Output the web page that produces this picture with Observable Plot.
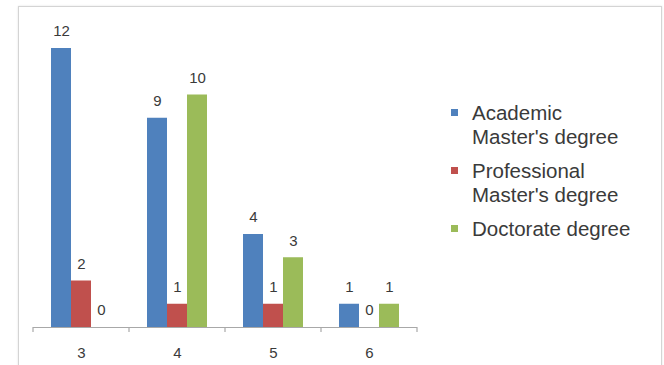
<!DOCTYPE html>
<html>
<head>
<meta charset="utf-8">
<script src="https://cdn.jsdelivr.net/npm/d3@7"></script>
<script src="https://cdn.jsdelivr.net/npm/@observablehq/plot@0.6"></script>
<style>
  html, body { margin: 0; padding: 0; background: #fff; }
  #wrap { position: relative; width: 664px; height: 365px; overflow: hidden; font-family: "Liberation Sans", Arial, sans-serif; }
  #box { position: absolute; left: 18px; top: 6px; width: 642px; height: 380px; border: 1px solid #d4d4d4; box-shadow: 0 0 2px #e4e4e4; }
  #chart { position: absolute; left: 0; top: 0; }
  #legend { position: absolute; left: 451px; top: 101px; color: #3a3a3a; font-size: 20.5px; line-height: 24px; }
  .item { position: relative; padding-left: 21px; margin-bottom: 10px; }
  .sw { position: absolute; left: 0; top: 8px; width: 7px; height: 7px; }
</style>
</head>
<body>
<div id="wrap">
  <div id="box"></div>
  <div id="chart"></div>
  <div id="legend"></div>
</div>
<script>
const categories = ["3", "4", "5", "6"];
const series = ["Academic Master's degree", "Professional Master's degree", "Doctorate degree"];
const legendLines = [["Academic", "Master's degree"], ["Professional", "Master's degree"], ["Doctorate degree"]];
const colors = ["#4f81bd", "#c0504d", "#9bbb59"];
const academic = [12, 9, 4, 1];
const professional = [2, 1, 1, 0];
const doctorate = [0, 10, 3, 1];

const valuesBySeries = [academic, professional, doctorate];
const table = [];
categories.forEach((c, i) => {
  series.forEach((s, j) => table.push({category: c, series: s, value: valuesBySeries[j][i]}));
});

const plot = Plot.plot({
  width: 664,
  height: 365,
  marginLeft: 32,
  marginRight: 246,
  marginTop: 48,
  marginBottom: 38,
  style: {fontFamily: "'Liberation Sans', Arial, sans-serif", background: "transparent", color: "#404040"},
  fx: {domain: categories, padding: 0, label: null},
  x: {domain: series, paddingInner: 0, paddingOuter: 0.8, axis: null},
  y: {domain: [0, 12], axis: null},
  color: {domain: series, range: colors},
  marks: [
    Plot.barY(table, {fx: "category", x: "series", y: "value", fill: "series"}),
    Plot.text(table, {fx: "category", x: "series", y: "value", text: d => String(d.value), dy: -17, fontSize: 15, fill: "#3a3a3a"}),
    Plot.ruleY([0], {stroke: "#a8a8a8", strokeWidth: 1.2}),
    Plot.axisFx({anchor: "bottom", tickSize: 0, tickPadding: 20, fontSize: 15, fill: "#3a3a3a", label: null})
  ]
});
document.getElementById("chart").appendChild(plot);

// category boundary ticks, positioned from the fx scale
const fx = plot.scale("fx");
const y = plot.scale("y");
const y0 = y.apply(0);
const edges = categories.map(c => fx.apply(c)).concat([fx.apply(categories[categories.length - 1]) + fx.bandwidth]);
d3.select(plot).append("g")
  .selectAll("line").data(edges).join("line")
  .attr("x1", d => d).attr("x2", d => d)
  .attr("y1", y0).attr("y2", y0 + 5)
  .attr("stroke", "#a8a8a8").attr("stroke-width", 1.2);

// legend
const legend = d3.select("#legend");
series.forEach((s, j) => {
  const item = legend.append("div").attr("class", "item");
  item.append("div").attr("class", "sw").style("background", colors[j]);
  legendLines[j].forEach(t => item.append("div").text(t));
});
</script>
</body>
</html>
